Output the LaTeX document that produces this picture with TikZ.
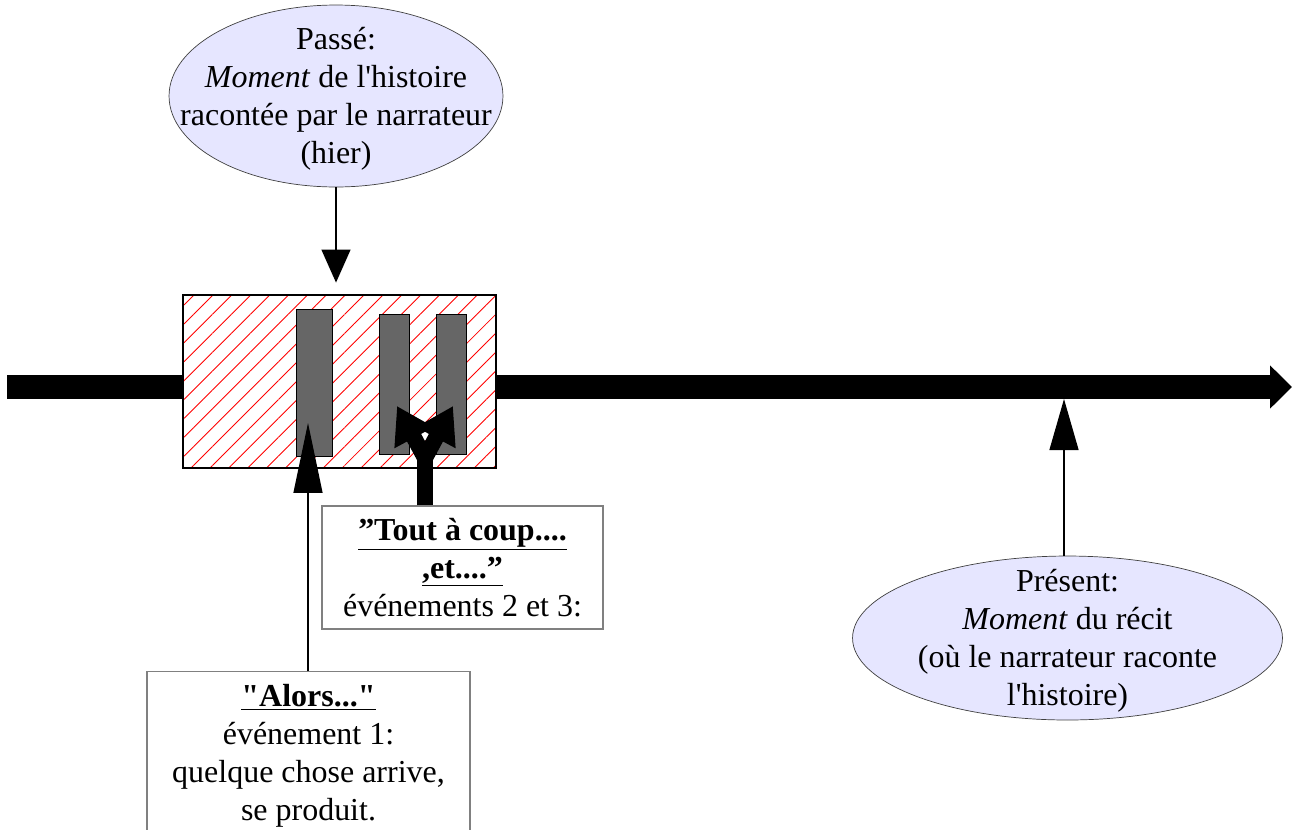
\documentclass[tikz,border=0pt]{standalone}
\usepackage{fontspec}
\setmainfont{Liberation Serif}
\usetikzlibrary{arrows.meta,shapes.geometric,patterns.meta}

\definecolor{lavande}{HTML}{E6E6FF}
\definecolor{barre}{HTML}{666666}

\tikzset{
  bulle/.style={ellipse, draw=black!75, fill=lavande, inner sep=0pt},
  texte/.style={align=center, inner sep=0pt},
  cadre/.style={draw=black!50, line width=0.8pt, fill=white, align=center, inner sep=0pt},
  periode/.style={draw, line width=1.4pt, minimum width=6.26cm, minimum height=3.46cm,
    preaction={fill=white}, pattern={Lines[angle=45,distance=7.6pt,line width=0.5pt]}, pattern color=red},
  evenement/.style={draw=black, line width=0.4pt, fill=barre, inner sep=0pt, minimum width=0.6cm, minimum height=2.8cm},
  fleche/.style={line width=0.75pt, -{Triangle[length=#1, width=0.58cm]}},
  tempsligne/.style={line width=0.48cm, -{Triangle[length=0.44cm, width=0.84cm]}},
  grosse/.style={line width=0.32cm},
}

\begin{document}
\begin{tikzpicture}[x=0.02cm, y=-0.02cm, font=\fontsize{18.2}{21.7}\selectfont]
  \useasboundingbox (0,0) rectangle (1293,829);
  \clip (0,0) rectangle (1293,829);

  % ligne du temps
  \coordinate (debut) at (7,387);
  \coordinate (fin) at (1292,387);
  \draw[tempsligne] (debut) -- (fin);

  % moment de l'histoire
  \node[periode] (histoire) at (339.5,381.5) {};
  \node[evenement, minimum width=0.72cm, minimum height=2.94cm] (ev1) at (314,382.5) {};
  \node[evenement] (ev2) at (394,384) {};
  \node[evenement] (ev3) at (451,384) {};

  % bulles
  \node[bulle, minimum width=6.68cm, minimum height=3.64cm] (passe) at (336,96) {};
  \node[texte] (passetexte) at (336,99)
    {Passé:\\\textit{Moment} de l\textquotesingle histoire\\racontée par le narrateur\\(hier)};
  \node[bulle, minimum width=8.6cm, minimum height=3.28cm] (present) at (1067.5,638) {};
  \node[texte] (presenttexte) at (1067.5,641)
    {Présent:\\\textit{Moment} du récit\\(où le narrateur raconte\\l\textquotesingle histoire)};

  % cadres
  \node[cadre, minimum width=5.62cm, minimum height=2.46cm] (toutacoup) at (462.5,567.5)
    {\textbf{\underline{”Tout à coup....}}\\\textbf{\underline{,et....”}}\\événements 2 et 3:};
  \node[cadre, anchor=north, minimum width=6.46cm, inner ysep=7pt] (alors) at (308.5,671)
    {\textbf{\underline{\textquotedbl Alors...\textquotedbl}}\\événement 1:\\quelque chose arrive,\\se produit.};

  % fleches fines
  \draw[fleche=0.66cm] (passe.south) -- (passe.south |- histoire.north) [shorten >=0.24cm];
  \coordinate (cible1) at (308,423);
  \draw[fleche=1.4cm] (alors.north -| cible1) -- (cible1);
  \coordinate (maintenant) at (1064,399);
  \draw[fleche=1.02cm] (maintenant |- present.north) -- (maintenant);

  % fourche vers les evenements 2 et 3
  \coordinate (fourche) at (425,458);
  \coordinate (pointe2) at (397,406);
  \coordinate (pointe3) at (453,406);
  \draw[grosse] (toutacoup.north -| fourche) -- (fourche);
  \draw[grosse, -{Triangle[length=0.72cm, width=0.84cm]}] (fourche) -- (pointe2);
  \draw[grosse, -{Triangle[length=0.72cm, width=0.84cm]}] (fourche) -- (pointe3);
\end{tikzpicture}
\end{document}
